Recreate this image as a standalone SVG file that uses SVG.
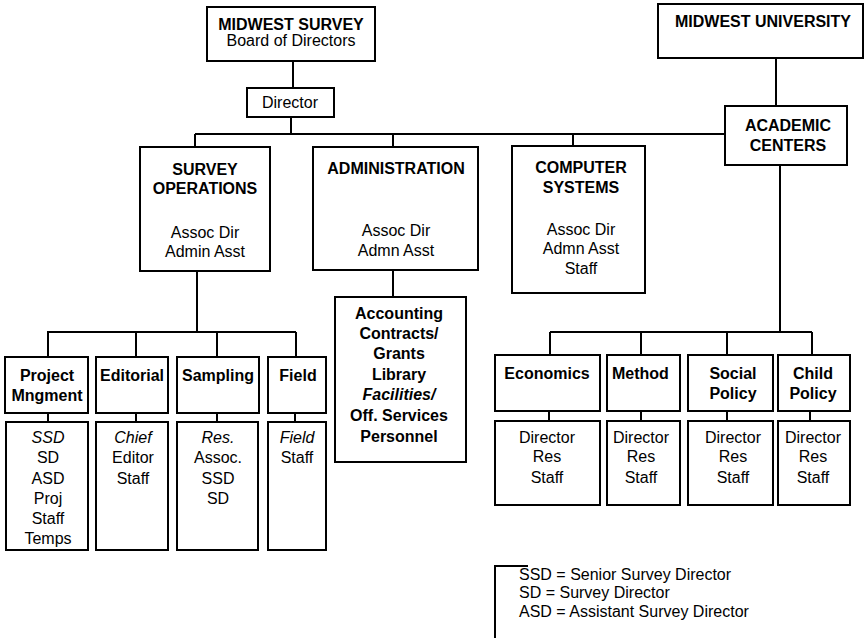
<svg xmlns="http://www.w3.org/2000/svg" width="864" height="638" viewBox="0 0 864 638">
  <style>
    .box { fill: #fff; stroke: #000; stroke-width: 2; }
    .wire { fill: none; stroke: #000; stroke-width: 2; }
    text { font-family: "Liberation Sans", Arial, sans-serif; font-size: 16px; fill: #000; text-anchor: middle; }
    .b { font-weight: bold; }
    .i { font-style: italic; }
    .l { text-anchor: start; }
  </style>
  <rect width="864" height="638" fill="#fff"/>

  <!-- connectors -->
  <g id="connectors" class="wire">
    <path d="M293,61 V88"/>
    <path d="M291,117 V134"/>
    <path d="M195,134 H725"/>
    <path d="M195,134 V147 M393,134 V147 M573,134 V146"/>
    <path d="M197,271 V332 M47,332 H296"/>
    <path d="M48,332 V357 M136,332 V357 M217,332 V357 M296,332 V357"/>
    <path d="M48,413 V422 M136,413 V422 M217,413 V422 M295,413 V422"/>
    <path d="M393,270 V297"/>
    <path d="M776,58 V106"/>
    <path d="M780,165 V332 M550,332 H812"/>
    <path d="M550,332 V355 M641,332 V355 M727,332 V355 M812,332 V355"/>
    <path d="M549,411 V421 M641,411 V421 M727,411 V421 M810,411 V421"/>
  </g>

  <!-- top level -->
  <g id="midwest-survey">
    <rect class="box" x="207" y="7" width="168" height="54"/>
    <text class="b" x="291" y="30">MIDWEST SURVEY</text>
    <text x="291" y="46">Board of Directors</text>
  </g>
  <g id="director">
    <rect class="box" x="247" y="88" width="87" height="29"/>
    <text x="290" y="108">Director</text>
  </g>
  <g id="midwest-university">
    <rect class="box" x="658" y="4" width="205" height="54"/>
    <text class="b" x="763" y="27">MIDWEST UNIVERSITY</text>
  </g>
  <g id="academic-centers">
    <rect class="box" x="725" y="106" width="122" height="59"/>
    <text class="b" x="788" y="131">ACADEMIC</text>
    <text class="b" x="788" y="151">CENTERS</text>
  </g>

  <!-- divisions -->
  <g id="survey-operations">
    <rect class="box" x="140" y="147" width="130" height="124"/>
    <text class="b" x="205" y="175">SURVEY</text>
    <text class="b" x="205" y="194">OPERATIONS</text>
    <text x="205" y="238">Assoc Dir</text>
    <text x="205" y="257">Admin Asst</text>
  </g>
  <g id="administration">
    <rect class="box" x="313" y="147" width="165" height="123"/>
    <text class="b" x="396" y="174">ADMINISTRATION</text>
    <text x="396" y="236">Assoc Dir</text>
    <text x="396" y="256">Admn Asst</text>
  </g>
  <g id="admin-units">
    <rect class="box" x="335" y="297" width="131" height="165"/>
    <text class="b" x="399" y="319">Accounting</text>
    <text class="b" x="399" y="339">Contracts/</text>
    <text class="b" x="399" y="359">Grants</text>
    <text class="b" x="399" y="380">Library</text>
    <text class="b i" x="399" y="400">Facilities/</text>
    <text class="b" x="399" y="421">Off. Services</text>
    <text class="b" x="399" y="442">Personnel</text>
  </g>
  <g id="computer-systems">
    <rect class="box" x="512" y="146" width="133" height="147"/>
    <text class="b" x="581" y="173">COMPUTER</text>
    <text class="b" x="581" y="193">SYSTEMS</text>
    <text x="581" y="235">Assoc Dir</text>
    <text x="581" y="254">Admn Asst</text>
    <text x="581" y="274">Staff</text>
  </g>

  <!-- survey operations units -->
  <g id="project-mngment">
    <rect class="box" x="5" y="357" width="83" height="56"/>
    <text class="b" x="47" y="381">Project</text>
    <text class="b" x="47" y="401">Mngment</text>
  </g>
  <g id="project-staff">
    <rect class="box" x="6" y="422" width="82" height="128"/>
    <text class="i" x="48" y="443">SSD</text>
    <text x="48" y="463">SD</text>
    <text x="48" y="484">ASD</text>
    <text x="48" y="504">Proj</text>
    <text x="48" y="524">Staff</text>
    <text x="48" y="544">Temps</text>
  </g>
  <g id="editorial">
    <rect class="box" x="96" y="357" width="72" height="56"/>
    <text class="b" x="132" y="381">Editorial</text>
  </g>
  <g id="editorial-staff">
    <rect class="box" x="96" y="422" width="72" height="128"/>
    <text class="i" x="133" y="443">Chief</text>
    <text x="133" y="463">Editor</text>
    <text x="133" y="484">Staff</text>
  </g>
  <g id="sampling">
    <rect class="box" x="177" y="357" width="82" height="56"/>
    <text class="b" x="218" y="381">Sampling</text>
  </g>
  <g id="sampling-staff">
    <rect class="box" x="177" y="422" width="81" height="128"/>
    <text class="i" x="218" y="443">Res.</text>
    <text x="218" y="463">Assoc.</text>
    <text x="218" y="484">SSD</text>
    <text x="218" y="504">SD</text>
  </g>
  <g id="field">
    <rect class="box" x="268" y="357" width="58" height="56"/>
    <text class="b" x="298" y="381">Field</text>
  </g>
  <g id="field-staff">
    <rect class="box" x="268" y="422" width="58" height="128"/>
    <text class="i" x="297" y="443">Field</text>
    <text x="297" y="463">Staff</text>
  </g>

  <!-- academic centers -->
  <g id="economics">
    <rect class="box" x="495" y="355" width="105" height="56"/>
    <text class="b" x="547" y="379">Economics</text>
  </g>
  <g id="economics-staff">
    <rect class="box" x="495" y="421" width="105" height="84"/>
    <text x="547" y="443">Director</text>
    <text x="547" y="462">Res</text>
    <text x="547" y="483">Staff</text>
  </g>
  <g id="method">
    <rect class="box" x="607" y="355" width="73" height="56"/>
    <text class="b l" x="612" y="379">Method</text>
  </g>
  <g id="method-staff">
    <rect class="box" x="607" y="421" width="73" height="84"/>
    <text x="641" y="443">Director</text>
    <text x="641" y="462">Res</text>
    <text x="641" y="483">Staff</text>
  </g>
  <g id="social-policy">
    <rect class="box" x="688" y="355" width="85" height="56"/>
    <text class="b" x="733" y="379">Social</text>
    <text class="b" x="733" y="399">Policy</text>
  </g>
  <g id="social-policy-staff">
    <rect class="box" x="688" y="421" width="85" height="84"/>
    <text x="733" y="443">Director</text>
    <text x="733" y="462">Res</text>
    <text x="733" y="483">Staff</text>
  </g>
  <g id="child-policy">
    <rect class="box" x="778" y="355" width="72" height="56"/>
    <text class="b" x="813" y="379">Child</text>
    <text class="b" x="813" y="399">Policy</text>
  </g>
  <g id="child-policy-staff">
    <rect class="box" x="778" y="421" width="72" height="84"/>
    <text x="813" y="443">Director</text>
    <text x="813" y="462">Res</text>
    <text x="813" y="483">Staff</text>
  </g>

  <!-- legend -->
  <g id="legend">
    <path class="wire" d="M528,566 H495 V638"/>
    <text class="l" x="519" y="580">SSD = Senior Survey Director</text>
    <text class="l" x="519" y="598">SD = Survey Director</text>
    <text class="l" x="519" y="617">ASD = Assistant Survey Director</text>
  </g>
</svg>
